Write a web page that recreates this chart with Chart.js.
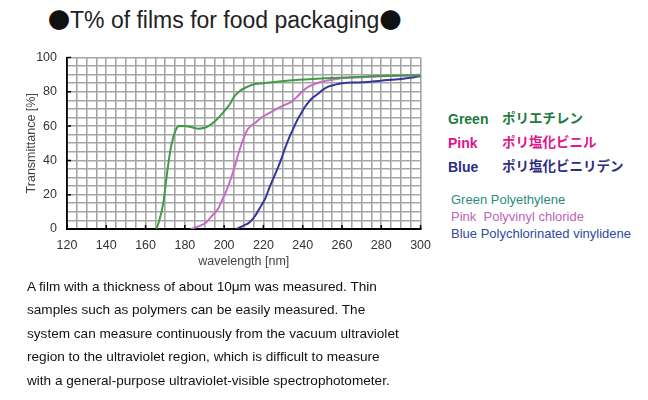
<!DOCTYPE html>
<html>
<head>
<meta charset="utf-8">
<script src="https://cdn.jsdelivr.net/npm/chart.js@4.4.1/dist/chart.umd.min.js"></script>
<style>
  html, body { margin: 0; padding: 0; background: #fff; width: 648px; height: 400px; overflow: hidden; }
  body { position: relative; font-family: "Liberation Sans", Arial, sans-serif; }
  #wrap { position: absolute; left: 0; top: 40px; width: 440px; height: 240px; }
  .t { position: absolute; white-space: nowrap; line-height: 1; }
  #title { left: 48px; top: 7px; font-size: 23px; color: #222; }
  #title .dot { font-family: "Noto Sans CJK JP", sans-serif; font-size: 22px; color: #111; }
  .para { left: 27px; font-size: 13.6px; color: #111; }
  .jp { font-family: "Liberation Sans", "Noto Sans CJK JP", sans-serif; font-weight: bold; font-size: 14px; }
  .jpn { font-family: "Noto Sans CJK JP", sans-serif; font-weight: bold; font-size: 13.5px; left: 502px; }
  .en { left: 451px; font-size: 13px; }
</style>
</head>
<body>
<div class="t" id="title"><span class="dot">●</span>T% of films for food packaging<span class="dot">●</span></div>
<div id="wrap"><canvas id="c" width="440" height="240"></canvas></div>

<div class="t jp" style="left:448px; top:112px; color:#1d7a40;">Green</div>
<div class="t jpn" style="top:111px; color:#1d7a40;">ポリエチレン</div>
<div class="t jp" style="left:448px; top:136px; color:#e0158a;">Pink</div>
<div class="t jpn" style="top:135px; color:#e0158a;">ポリ塩化ビニル</div>
<div class="t jp" style="left:448px; top:160px; color:#2d2d80;">Blue</div>
<div class="t jpn" style="top:159px; color:#2d2d80;">ポリ塩化ビニリデン</div>

<div class="t en" style="top:193px; color:#2a8c7c;">Green Polyethylene</div>
<div class="t en" style="top:210px; color:#c062b8;">Pink&nbsp; Polyvinyl chloride</div>
<div class="t en" style="top:227px; color:#2f4a9a;">Blue Polychlorinated vinylidene</div>

<div class="t para" style="top:280px;">A film with a thickness of about 10μm was measured. Thin</div>
<div class="t para" style="top:303px;">samples such as polymers can be easily measured. The</div>
<div class="t para" style="top:327px;">system can measure continuously from the vacuum ultraviolet</div>
<div class="t para" style="top:350px;">region to the ultraviolet region, which is difficult to measure</div>
<div class="t para" style="top:374px;">with a general-purpose ultraviolet-visible spectrophotometer.</div>

<script>
// ---- data (wavelength nm, transmittance %) ----
const greenWl = [165.5, 167, 169, 171, 172.5, 174, 175.5, 177, 180, 183, 187, 190, 192, 195, 198, 201, 203, 205, 208, 211, 214, 220, 228, 238, 245, 255, 265, 275, 290, 300];
const greenT  = [0, 5, 15, 33, 45, 53, 58, 60, 60, 59.5, 58.5, 59, 60, 62.5, 66, 70, 73, 77, 80.5, 82.5, 84, 85, 86, 87, 87.5, 88, 88.5, 89, 89.5, 89.5];
const pinkWl  = [183, 187, 191, 194, 197, 199, 201, 203, 205, 207, 209, 211, 213, 216, 219, 222, 226, 230, 234, 237, 240, 243, 246, 250, 255, 260, 270, 280, 290, 300];
const pinkT   = [0, 1.5, 4, 8, 12, 17, 22, 28, 35, 43, 50, 56, 59.5, 62, 65, 67, 69.5, 72, 74, 77, 80.5, 83, 84.5, 86, 87, 88, 88.5, 89, 89.5, 90];
const blueWl  = [206, 210, 213, 216, 218, 221, 223, 226, 228.5, 231, 233, 235, 237, 239, 241, 243, 245, 248, 250, 253, 256, 260, 270, 280, 290, 300];
const blueT   = [0, 2, 4, 8, 12, 18, 24, 32, 39, 47, 53, 58, 63, 67, 71, 74, 76.5, 79, 81, 83, 84, 85, 85.5, 86.5, 87.5, 89];
const xMin = 120, xMax = 300, xStep = 5, xLabelEvery = 20;
const yMin = 0, yMax = 100, yStep = 5, yLabelEvery = 20;
const seriesNames = ['Polyethylene', 'Polyvinyl chloride', 'Polychlorinated vinylidene'];

const pts = (xs, ys) => xs.map((x, i) => ({ x: x, y: ys[i] }));

const innerTicks = {
  id: 'innerTicks',
  beforeDatasetsDraw(chart) {
    const { ctx, chartArea: a, scales: { x, y } } = chart;
    ctx.save();
    ctx.strokeStyle = '#000';
    ctx.lineWidth = 1.5;
    ctx.beginPath();
    for (let v = xMin; v <= xMax; v += xLabelEvery) {
      const px = x.getPixelForValue(v);
      ctx.moveTo(px, a.bottom); ctx.lineTo(px, a.bottom - 4);
    }
    for (let v = yMin; v <= yMax; v += yLabelEvery) {
      const py = y.getPixelForValue(v);
      ctx.moveTo(a.left, py); ctx.lineTo(a.left + 4, py);
    }
    ctx.stroke();
    ctx.restore();
  }
};

const common = { pointRadius: 0, borderWidth: 2, fill: false, cubicInterpolationMode: 'monotone' };

new Chart(document.getElementById('c'), {
  type: 'line',
  data: {
    datasets: [
      Object.assign({ label: seriesNames[0], data: pts(greenWl, greenT), borderColor: '#3f9c45' }, common),
      Object.assign({ label: seriesNames[1], data: pts(pinkWl, pinkT), borderColor: '#c76cc6' }, common),
      Object.assign({ label: seriesNames[2], data: pts(blueWl, blueT), borderColor: '#35359a' }, common)
    ]
  },
  options: {
    responsive: false,
    animation: false,
    layout: { padding: { top: 14, right: 19, left: 0, bottom: 11 } },
    plugins: { legend: { display: false }, tooltip: { enabled: false } },
    scales: {
      x: {
        type: 'linear', min: xMin, max: xMax,
        afterFit(s) { s.height = 40; },
        grid: { color: c => (c.tick && c.tick.value === xMin) ? '#000' : '#a5a5a5', lineWidth: 1.6, drawTicks: false },
        border: { color: '#000', width: 2 },
        ticks: {
          stepSize: xStep, autoSkip: false, maxRotation: 0, padding: 9,
          color: '#333', font: { family: 'Liberation Sans', size: 12.5 },
          callback: v => (v % xLabelEvery === 0 ? String(v) : '')
        },
        title: { display: true, text: 'wavelength [nm]', color: '#444', font: { family: 'Liberation Sans', size: 12.5 }, padding: { top: 0, bottom: 0 } }
      },
      y: {
        type: 'linear', min: yMin, max: yMax,
        afterFit(s) { s.width = 67; },
        grid: { color: c => (c.tick && c.tick.value === yMin) ? '#000' : '#a5a5a5', lineWidth: 1.6, drawTicks: false },
        border: { color: '#000', width: 1.6 },
        ticks: {
          stepSize: yStep, autoSkip: false, padding: 10,
          color: '#333', font: { family: 'Liberation Sans', size: 12.5 },
          callback: v => (v % yLabelEvery === 0 ? String(v) : '')
        },
        title: { display: true, text: 'Transmittance [%]', color: '#444', font: { family: 'Liberation Sans', size: 12.5 }, padding: { top: 24, bottom: 0 } }
      }
    }
  },
  plugins: [innerTicks]
});
</script>
</body>
</html>
